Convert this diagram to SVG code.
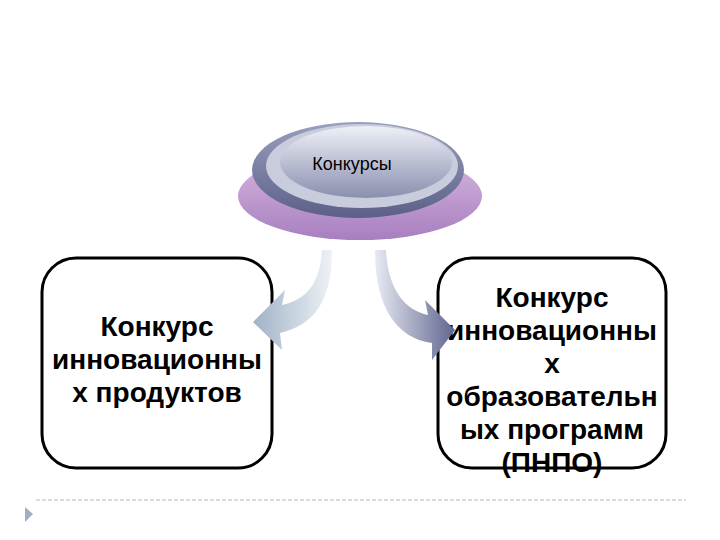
<svg xmlns="http://www.w3.org/2000/svg" width="720" height="540" viewBox="0 0 720 540">
<defs>
<style>
.box{fill:#fff;stroke:#000;stroke-width:3}
.t{font-family:"Liberation Sans",Arial,sans-serif;font-weight:bold;font-size:28px;text-anchor:middle;fill:#000}
</style>
<linearGradient id="disc" x1="0" y1="0" x2="0" y2="1"><stop offset="0" stop-color="#eef0f8"/><stop offset="1" stop-color="#8a8fae"/></linearGradient>
<linearGradient id="rim" x1="0" y1="0" x2="0" y2="1"><stop offset="0" stop-color="#9a9fbf"/><stop offset="1" stop-color="#5c6088"/></linearGradient>
<linearGradient id="base" x1="0" y1="0" x2="0" y2="1"><stop offset="0" stop-color="#d8b8e0"/><stop offset="1" stop-color="#a77fbf"/></linearGradient>
<linearGradient id="al" x1="1" y1="0" x2="0" y2="0"><stop offset="0" stop-color="#eef2f6"/><stop offset="1" stop-color="#9fb2c6"/></linearGradient>
<linearGradient id="ar" x1="0" y1="0" x2="1" y2="0"><stop offset="0" stop-color="#e8eaf2"/><stop offset="1" stop-color="#5f6690"/></linearGradient>
</defs>
<g id="guide">
<line x1="36" y1="500" x2="686" y2="500" stroke="#b0b8c4" stroke-width="1" stroke-dasharray="4,2"/>
<polygon points="25,507 33,514 25,522" fill="#a0b0c4"/>
</g>
<g id="konkursy">
<ellipse cx="360" cy="196" rx="122" ry="44" fill="url(#base)"/>
<ellipse cx="358" cy="170" rx="106" ry="48" fill="url(#rim)"/>
<ellipse cx="362" cy="166" rx="96" ry="42" fill="#c9ccdd"/>
<ellipse cx="366" cy="162" rx="86" ry="36" fill="url(#disc)"/>
<text class="t" x="352" y="170" style="font-size:18px;font-weight:normal">Конкурсы</text>
</g>
<g id="left">
<rect class="box" x="42" y="258" width="230" height="210" rx="34"/>
<text class="t" x="157" y="336">Конкурс</text>
<text class="t" x="157" y="369">инновационны</text>
<text class="t" x="157" y="402">х продуктов</text>
</g>
<g id="right">
<rect class="box" x="438" y="258" width="228" height="210" rx="34"/>
<text class="t" x="552" y="307">Конкурс</text>
<text class="t" x="552" y="340">инновационны</text>
<text class="t" x="552" y="373">х</text>
<text class="t" x="552" y="406">образовательн</text>
<text class="t" x="552" y="439">ых программ</text>
<text class="t" x="552" y="472">(ПНПО)</text>
</g>
<g id="connectors">
<path d="M322,250 C320,285 305,300 282,305 L285,290 L253,322 L282,350 L280,333 C315,325 332,300 332,250 Z" fill="url(#al)"/>
<path d="M386,250 C388,290 405,310 428,315 L425,300 L455,330 L432,360 L432,343 C395,338 375,305 375,250 Z" fill="url(#ar)"/>
</g>
</svg>
